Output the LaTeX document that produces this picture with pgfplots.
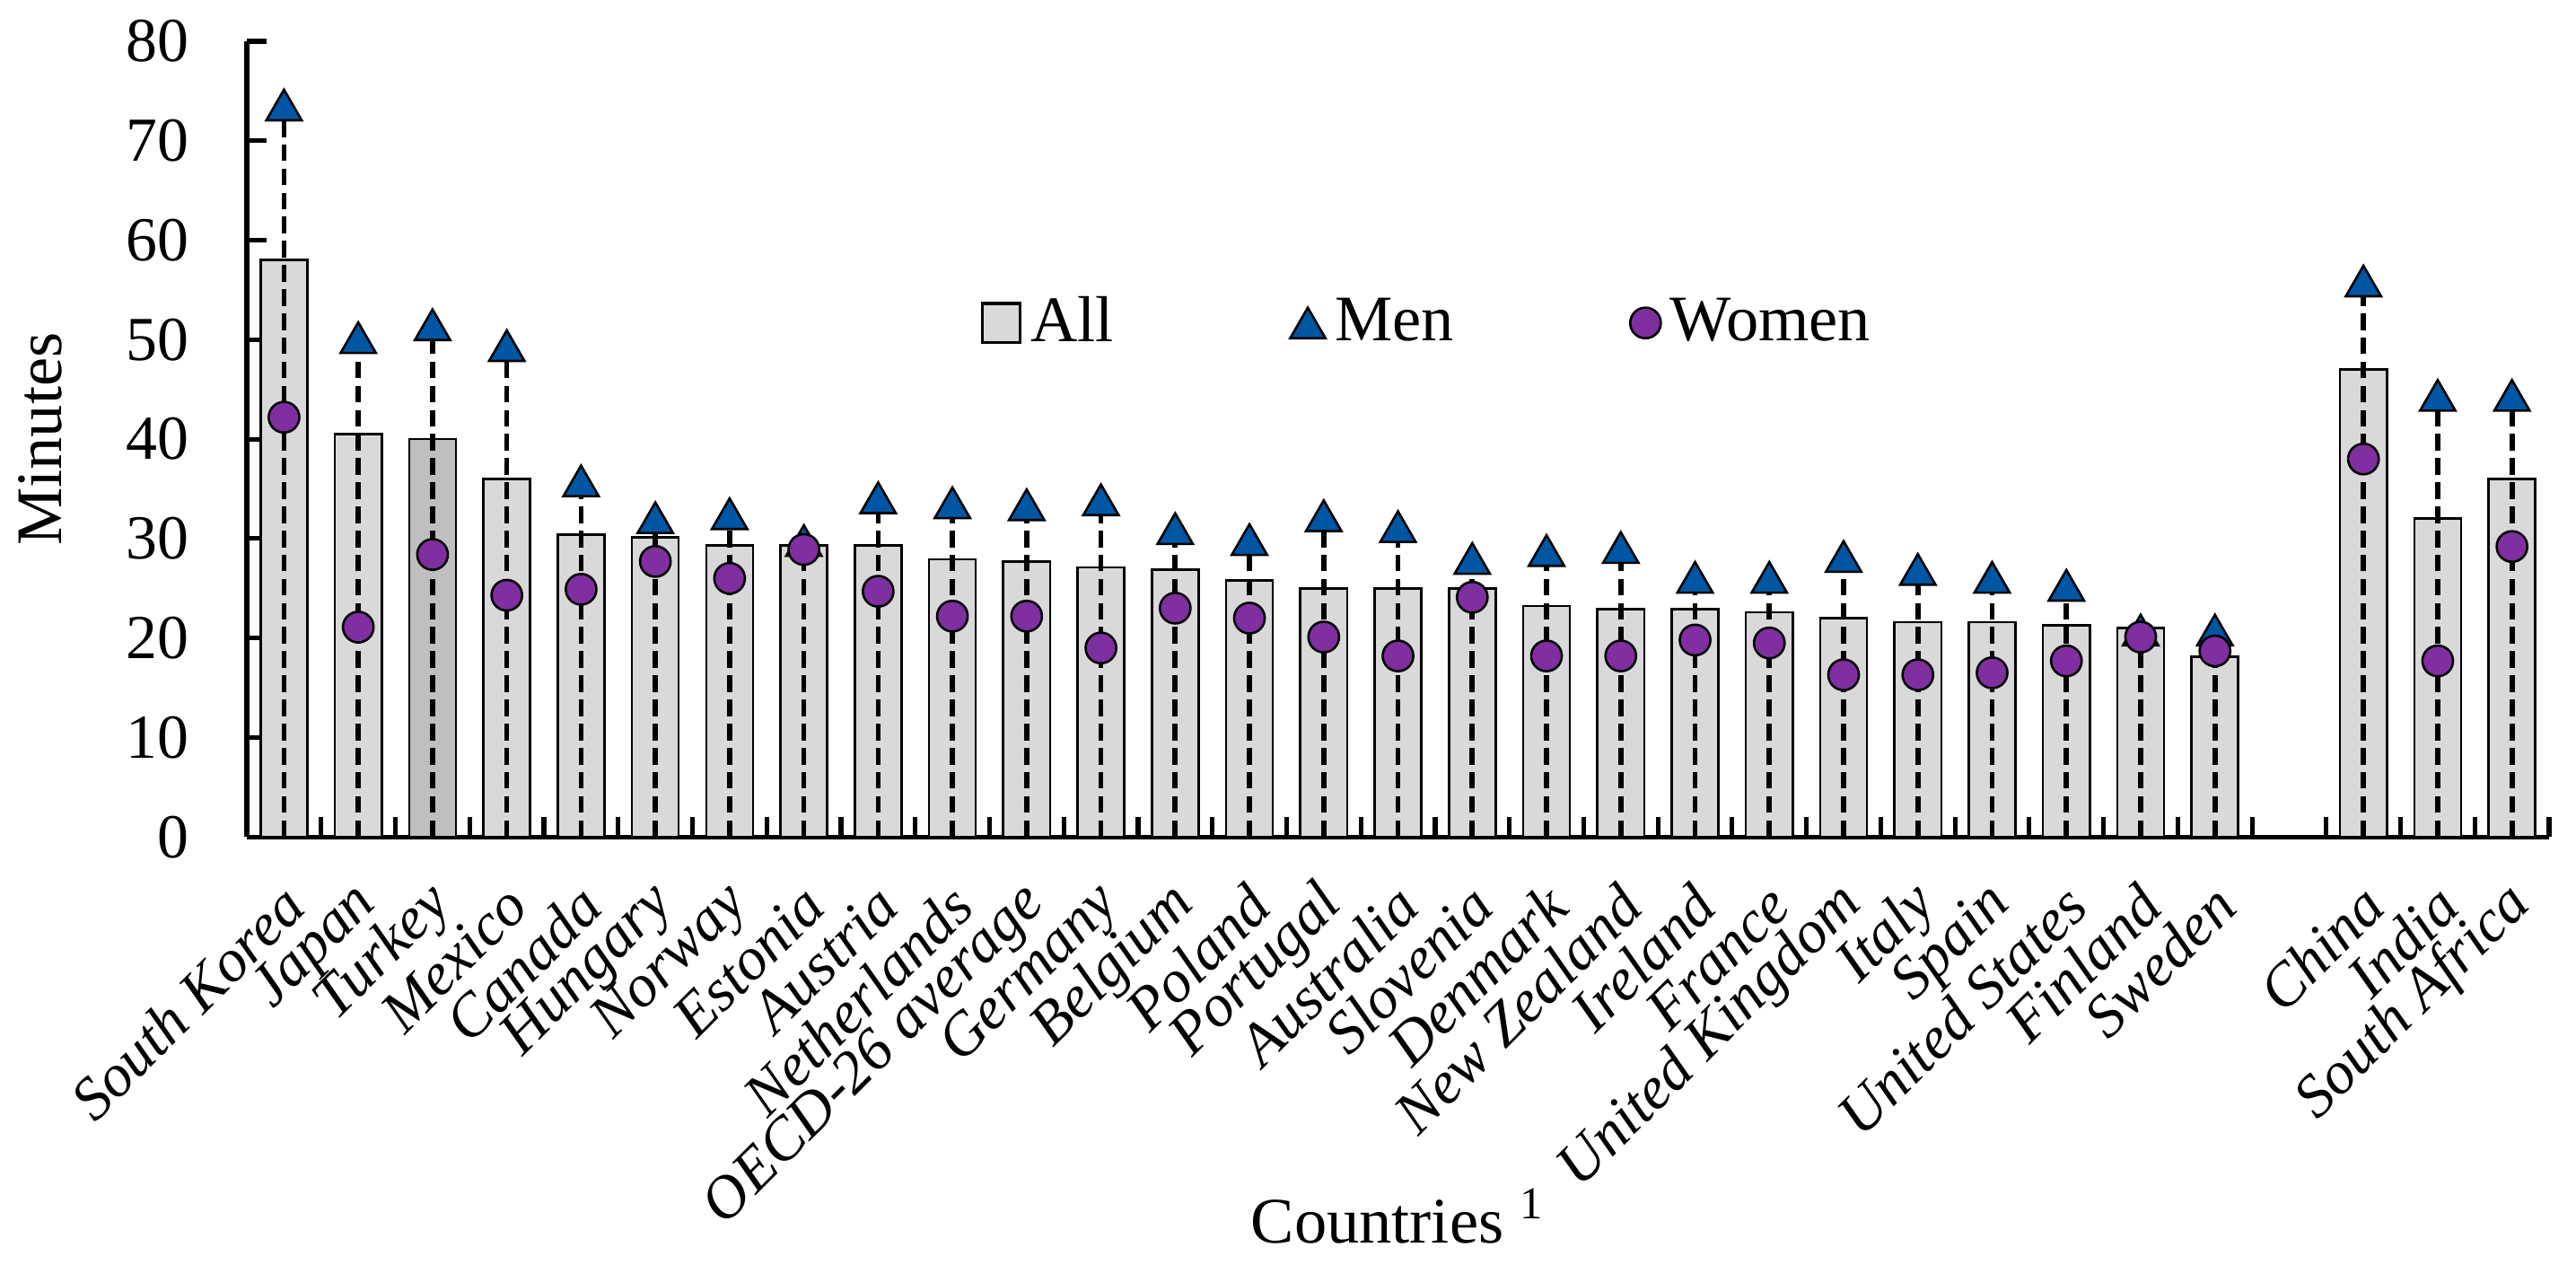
\documentclass[border=0pt]{standalone}
\usepackage{fontspec}
\setmainfont{Liberation Serif}
\usepackage{pgfplots}
\usepackage{pgfplotstable}
\pgfplotsset{compat=1.18}
\definecolor{barfill}{HTML}{D9D9D9}
\definecolor{bardark}{HTML}{BFBFBF}
\definecolor{menblue}{HTML}{0056A3}
\definecolor{wompurple}{HTML}{7F2FA0}
\pgfplotsset{
  markleg/.style={legend image code/.code={\draw[##1] plot coordinates {(0pt,0pt)};}},
  barleg/.style={legend image code/.code={\draw[draw=black, line width=0.6pt, fill=barfill] (0pt,-4.2pt) rectangle (8.2pt,4.2pt);}},
}

% x: position (27 is an empty slot)
\pgfplotstableread{
x all men women
0 58.0 73.6 42.2
1 40.5 50.2 21.1
2 40.0 51.5 28.4
3 36.0 49.4 24.3
4 30.4 35.8 24.9
5 30.1 32.1 27.7
6 29.3 32.5 26.0
7 29.3 29.8 28.9
8 29.3 34.1 24.7
9 27.9 33.6 22.2
10 27.7 33.4 22.2
11 27.1 33.9 19.0
12 26.9 31.0 23.0
13 25.8 29.9 22.0
14 25.0 32.3 20.1
15 25.0 31.2 18.2
16 25.0 28.0 24.1
17 23.2 28.8 18.2
18 22.9 29.1 18.2
19 22.9 26.1 19.8
20 22.6 26.1 19.5
21 22.0 28.2 16.3
22 21.6 26.9 16.3
23 21.6 26.1 16.5
24 21.3 25.3 17.7
25 21.0 20.8 20.1
26 18.1 20.8 18.7
28 47.0 55.9 38.0
29 32.0 44.4 17.7
30 36.0 44.4 29.2
}\data

\pgfplotstableread{
x all
2 40.0
}\turkey

\begin{document}
\begin{tikzpicture}
\begin{axis}[
  scale only axis,
  width=496.1pt, height=171.4pt,
  xmin=-0.5, xmax=30.5, ymin=0, ymax=80,
  axis lines*=left,
  axis line style={line width=1pt, black},
  tick align=inside,
  major tick length=4.2pt,
  tick style={line width=1pt, black},
  ytick={0,10,...,80},
  xtick={-0.5,0.5,...,30.5},
  xticklabels={},
  extra x ticks={0,1,...,26,28,29,30},
  extra x tick labels={South Korea,Japan,Turkey,Mexico,Canada,Hungary,Norway,Estonia,Austria,Netherlands,OECD-26 average,Germany,Belgium,Poland,Portugal,Australia,Slovenia,Denmark,New Zealand,Ireland,France,United Kingdom,Italy,Spain,United States,Finland,Sweden,China,India,South Africa},
  extra x tick style={tick style={draw=none}},
  xticklabel style={font=\fontsize{13}{15}\selectfont\itshape, anchor=east, xshift=4.6pt, yshift=-10.2pt, rotate=45},
  yticklabel style={font=\fontsize{13.5}{15}\selectfont, xshift=-9pt},
  /pgf/number format/assume math mode=true,
  every axis y label/.style={at={(axis description cs:-0.0897,0.5)}, rotate=90, anchor=center, font=\fontsize{14}{16}\selectfont},
  every axis x label/.style={at={(axis description cs:0.5,-0.477)}, anchor=center, font=\fontsize{14}{16}\selectfont},
  ylabel={Minutes},
  xlabel={Countries \textsuperscript{1}},
  legend columns=3,
  legend style={at={(axis description cs:0.514,0.646)}, anchor=center, draw=none, fill=none,
    font=\fontsize{14}{16}\selectfont,
    /tikz/every even column/.append style={column sep=36pt}},
]
\coordinate (SW) at (rel axis cs:0,0);
\coordinate (NE) at (rel axis cs:1,1);

\addplot[ybar, bar width=0.63, bar shift=0pt, draw=black, line width=0.5pt, fill=barfill, barleg]
  table[x=x, y=all]{\data};
\addlegendentry{All}

\addplot[ybar, bar width=0.63, bar shift=0pt, draw=black, line width=0.5pt, fill=bardark, forget plot]
  table[x=x, y=all]{\turkey};

\addplot[ycomb, black, line width=1.1pt, dash pattern=on 3.6pt off 1.6pt, forget plot]
  table[x=x, y=men]{\data};

\addplot[only marks, mark=triangle*, mark size=4.4pt,
  mark options={fill=menblue, draw=black, line width=0.5pt, yshift=-1.1pt}, markleg]
  table[x=x, y=men]{\data};
\addlegendentry{Men}

\addplot[only marks, mark=*, mark size=3.3pt,
  mark options={fill=wompurple, draw=black, line width=0.5pt}, markleg]
  table[x=x, y=women]{\data};
\addlegendentry{Women}
\end{axis}
\pgfresetboundingbox
\path ([shift={(-53.2pt,-92.1pt)}]SW) rectangle ([shift={(5.8pt,8.9pt)}]NE);
\end{tikzpicture}
\end{document}
